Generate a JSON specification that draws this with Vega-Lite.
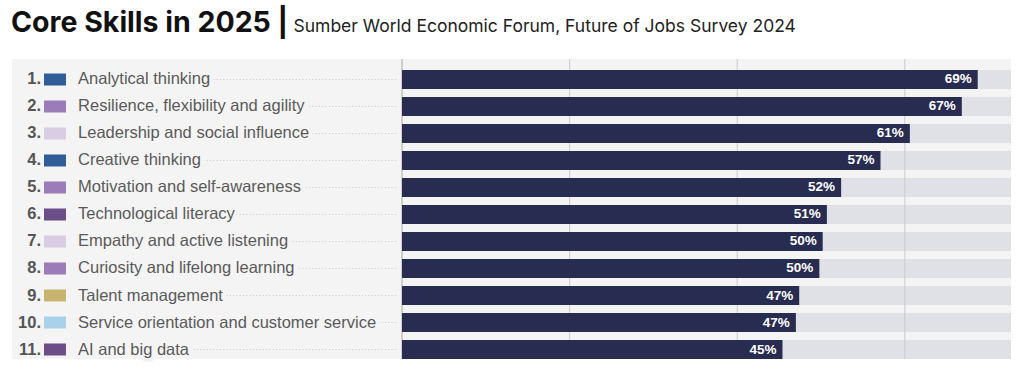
{
  "$schema": "https://vega.github.io/schema/vega-lite/v6.json",
  "width": 999,
  "height": 300,
  "autosize": {"type": "none"},
  "padding": {"left": 12, "top": 59, "right": 13, "bottom": 10},
  "background": "white",
  "title": {"text": "Core Skills in 2025 |", "anchor": "start", "frame": "group", "font": "Inter", "fontSize": 28.5, "fontWeight": "bold", "color": "#111111", "baseline": "alphabetic", "offset": -43, "dx": -1},
  "config": {
    "view": {"fill": "#f4f4f4", "stroke": null},
    "axisX": {"orient": "top", "labels": false, "ticks": false, "domain": false, "grid": false, "titleX": 281, "titleY": -28, "titleAlign": "left", "titleAnchor": "start", "titleBaseline": "alphabetic", "titleFont": "Inter", "titleFontSize": 17.5, "titleFontWeight": "normal", "titleColor": "#222222"}
  },
  "datasets": {
    "skills": [
      {"rank": "1.", "skill": "Analytical thinking", "type": "Cognitive skills", "share": 0.687},
      {"rank": "2.", "skill": "Resilience, flexibility and agility", "type": "Self-efficacy", "share": 0.668},
      {"rank": "3.", "skill": "Leadership and social influence", "type": "Working with others", "share": 0.606},
      {"rank": "4.", "skill": "Creative thinking", "type": "Cognitive skills", "share": 0.571},
      {"rank": "5.", "skill": "Motivation and self-awareness", "type": "Self-efficacy", "share": 0.524},
      {"rank": "6.", "skill": "Technological literacy", "type": "Technology skills", "share": 0.507},
      {"rank": "7.", "skill": "Empathy and active listening", "type": "Working with others", "share": 0.502},
      {"rank": "8.", "skill": "Curiosity and lifelong learning", "type": "Self-efficacy", "share": 0.498},
      {"rank": "9.", "skill": "Talent management", "type": "Management skills", "share": 0.474},
      {"rank": "10.", "skill": "Service orientation and customer service", "type": "Engagement skills", "share": 0.470},
      {"rank": "11.", "skill": "AI and big data", "type": "Technology skills", "share": 0.454}
    ],
    "grid": [{"g": 0}, {"g": 0.2}, {"g": 0.4}, {"g": 0.6}]
  },
  "data": {"name": "skills"},
  "layer": [
    {
      "mark": {"type": "bar", "color": "#e0e1e6"},
      "encoding": {
        "y": {"field": "skill", "type": "nominal", "sort": null, "scale": {"paddingInner": 0.2963, "paddingOuter": 0.2037, "align": 1}, "axis": null},
        "x": {"datum": 0, "type": "quantitative", "scale": {"domain": [-0.4654, 0.7267], "nice": false, "zero": false},
          "axis": {"title": "Sumber World Economic Forum, Future of Jobs Survey 2024"}},
        "x2": {"datum": 0.7267}
      }
    },
    {
      "data": {"name": "grid"},
      "mark": {"type": "rule", "strokeWidth": 1},
      "encoding": {
        "x": {"field": "g", "type": "quantitative", "axis": {"title": "Sumber World Economic Forum, Future of Jobs Survey 2024"}},
        "color": {"condition": {"test": "datum.g === 0", "value": "#a8a8a8"}, "value": "#c9c9cc"},
        "strokeWidth": {"condition": {"test": "datum.g === 0", "value": 1.5}, "value": 1}
      }
    },
    {
      "mark": {"type": "bar", "color": "#272c50"},
      "encoding": {
        "y": {"field": "skill", "type": "nominal", "sort": null, "axis": null},
        "x": {"field": "share", "type": "quantitative", "axis": {"title": "Sumber World Economic Forum, Future of Jobs Survey 2024"}},
        "x2": {"datum": 0}
      }
    },
    {
      "mark": {"type": "text", "align": "right", "baseline": "middle", "dx": -6, "font": "Liberation Sans", "fontSize": 13.5, "fontWeight": "bold", "color": "#ffffff"},
      "encoding": {
        "y": {"field": "skill", "type": "nominal", "sort": null, "axis": null},
        "x": {"field": "share", "type": "quantitative", "axis": {"title": "Sumber World Economic Forum, Future of Jobs Survey 2024"}},
        "text": {"field": "share", "type": "quantitative", "format": ".0%"}
      }
    },
    {
      "mark": {"type": "rule", "color": "#c8c8c8", "strokeWidth": 1.2, "strokeDash": [1, 2.3]},
      "encoding": {
        "y": {"field": "skill", "type": "nominal", "sort": null, "axis": null},
        "x": {"datum": -0.3866, "type": "quantitative", "axis": {"title": "Sumber World Economic Forum, Future of Jobs Survey 2024"}},
        "x2": {"datum": -0.0048}
      }
    },
    {
      "mark": {"type": "text", "align": "left", "baseline": "middle", "font": "Liberation Sans", "fontSize": 16.5, "fill": "#f4f4f4", "stroke": "#f4f4f4", "strokeWidth": 8, "strokeJoin": "round"},
      "encoding": {
        "y": {"field": "skill", "type": "nominal", "sort": null, "axis": null},
        "x": {"datum": -0.3866, "type": "quantitative", "axis": {"title": "Sumber World Economic Forum, Future of Jobs Survey 2024"}},
        "text": {"field": "skill"}
      }
    },
    {
      "mark": {"type": "text", "align": "left", "baseline": "middle", "font": "Liberation Sans", "fontSize": 16.5, "color": "#5a5a5a"},
      "encoding": {
        "y": {"field": "skill", "type": "nominal", "sort": null, "axis": null},
        "x": {"datum": -0.3866, "type": "quantitative", "axis": {"title": "Sumber World Economic Forum, Future of Jobs Survey 2024"}},
        "text": {"field": "skill"}
      }
    },
    {
      "mark": {"type": "text", "align": "right", "baseline": "middle", "font": "Liberation Sans", "fontSize": 16.5, "fontWeight": "bold", "color": "#555555"},
      "encoding": {
        "y": {"field": "skill", "type": "nominal", "sort": null, "axis": null},
        "x": {"datum": -0.4308, "type": "quantitative", "axis": {"title": "Sumber World Economic Forum, Future of Jobs Survey 2024"}},
        "text": {"field": "rank"}
      }
    },
    {
      "mark": {"type": "bar", "height": 12},
      "encoding": {
        "y": {"field": "skill", "type": "nominal", "sort": null, "axis": null},
        "x": {"datum": -0.4272, "type": "quantitative", "axis": {"title": "Sumber World Economic Forum, Future of Jobs Survey 2024"}},
        "x2": {"datum": -0.4010},
        "color": {"field": "type", "type": "nominal", "legend": null,
          "scale": {"domain": ["Cognitive skills", "Self-efficacy", "Working with others", "Technology skills", "Management skills", "Engagement skills"],
                    "range": ["#2f5d98", "#9b7bb8", "#d8cde3", "#6b4d87", "#c8b46e", "#a9d2ea"]}}
      }
    }
  ]
}
